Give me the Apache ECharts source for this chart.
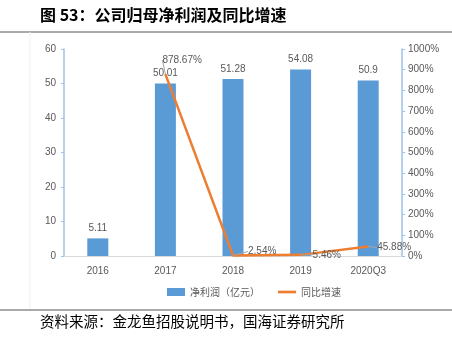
<!DOCTYPE html>
<html><head><meta charset="utf-8">
<script src="https://cdn.jsdelivr.net/npm/echarts@6/dist/echarts.min.js"></script>
<style>html,body{margin:0;padding:0;background:#fff}#c{width:452px;height:339px}</style>
</head><body><div id="c"></div>
<script>
var categories = ['2016', '2017', '2018', '2019', '2020Q3'];
var profit = [5.11, 50.01, 51.28, 54.08, 50.9];
var growth = [null, 878.67, 2.54, 5.46, 45.88];
var leftTicks = [0, 60, 10];
var rightTicks = [0, 1000, 100];
var titleText = '图 53：公司归母净利润及同比增速';
var sourceText = '资料来源：金龙鱼招股说明书，国海证券研究所';
var seriesNames = ['净利润（亿元）', '同比增速'];
var labelOffsets = [null, [-3, -14], [15, -4], [12, 0], [9, 1]];

var chart = echarts.init(document.getElementById('c'));
var txt = '#595959';
chart.setOption({
  animation: false,
  textStyle: {fontFamily: 'Liberation Sans, Noto Sans CJK SC'},
  graphic: [
    {type: 'text', left: 40, top: 7, style: {text: titleText, font: 'bold 16px "Noto Sans CJK SC"', fill: '#000'}},
    {type: 'line', shape: {x1: 0, y1: 32, x2: 452, y2: 32}, style: {stroke: '#555', lineWidth: 1}},
    {type: 'line', shape: {x1: 30, y1: 32, x2: 30, y2: 310}, style: {stroke: '#f0f0f0', lineWidth: 1}},
    {type: 'line', shape: {x1: 0, y1: 310, x2: 452, y2: 310}, style: {stroke: '#555', lineWidth: 1}},
    {type: 'text', left: 40, top: 314, style: {text: sourceText, font: '14.5px "Noto Sans CJK SC"', fill: '#000'}}
  ],
  grid: {left: 64, right: 50, top: 49, bottom: 83},
  legend: {
    top: 282, left: 162, itemGap: 18, itemWidth: 18, itemHeight: 8,
    textStyle: {color: txt, fontSize: 10, fontFamily: 'Noto Sans CJK SC'},
    data: [{name: seriesNames[0], icon: 'rect'},
           {name: seriesNames[1], icon: 'path://M0,0 L20,0 L20,3 L0,3 Z', itemStyle: {color: '#ED7D31', opacity: 1}}]
  },
  xAxis: {
    type: 'category', data: categories,
    axisLine: {lineStyle: {color: '#D9D9D9'}},
    axisTick: {show: false},
    axisLabel: {color: txt, fontSize: 10, margin: 10}
  },
  yAxis: [
    {type: 'value', min: leftTicks[0], max: leftTicks[1], interval: leftTicks[2],
     axisLine: {show: true, lineStyle: {color: '#9DC3E6', width: 1.5}},
     axisTick: {show: true, length: 3, lineStyle: {color: '#9DC3E6'}},
     splitLine: {show: false},
     axisLabel: {color: txt, fontSize: 10, margin: 8}},
    {type: 'value', min: rightTicks[0], max: rightTicks[1], interval: rightTicks[2],
     axisLine: {show: true, lineStyle: {color: '#9DC3E6', width: 1.5}},
     axisTick: {show: true, length: 3, lineStyle: {color: '#9DC3E6'}},
     splitLine: {show: false},
     axisLabel: {color: txt, fontSize: 10, margin: 6, formatter: function (v) { return v + '%'; }}}
  ],
  series: [
    {name: seriesNames[0], type: 'bar', data: profit, barWidth: 21, yAxisIndex: 0,
     itemStyle: {color: '#5B9BD5'},
     label: {show: true, position: 'top', color: txt, fontSize: 10, distance: 5}},
    {name: seriesNames[1], type: 'line', data: growth, yAxisIndex: 1,
     symbol: 'circle', symbolSize: 0, showSymbol: true,
     lineStyle: {color: '#ED7D31', width: 2.5}, itemStyle: {color: '#ED7D31'},
     label: {show: true, position: 'right', color: txt, fontSize: 10, distance: 0,
       formatter: function (p) { return p.value == null ? '' : p.value.toFixed(2) + '%'; }},
     labelLine: {show: true, lineStyle: {color: '#A6A6A6', width: 1}},
     labelLayout: function (p) {
       var o = labelOffsets[p.dataIndex] || [0, 0];
       return {dx: o[0], dy: o[1]};
     }}
  ]
});
</script></body></html>
